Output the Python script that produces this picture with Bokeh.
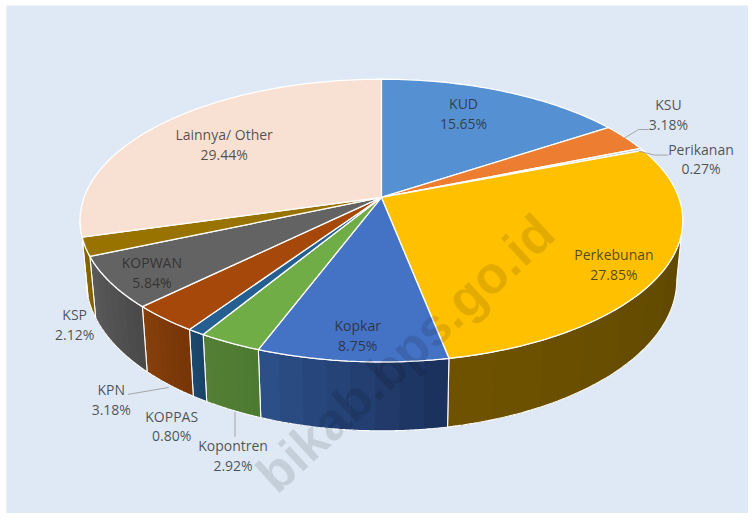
import numpy as np
from bokeh.plotting import figure
from bokeh.embed import file_html
from bokeh.resources import INLINE
from bokeh.core.properties import value

# ---- data ----
categories = ["KUD", "KSU", "Perikanan", "Perkebunan", "Kopkar", "Kopontren",
              "KOPPAS", "KPN", "KOPWAN", "KSP", "Lainnya/ Other"]
shares = [15.65, 3.18, 0.27, 27.85, 8.75, 2.92, 0.80, 3.18, 5.84, 2.12, 29.44]
share_labels = ["15.65%", "3.18%", "0.27%", "27.85%", "8.75%", "2.92%",
                "0.80%", "3.18%", "5.84%", "2.12%", "29.44%"]
watermark = ["bikab.bps.go.id"]

# ---- style ----
top_colors = ["#5591D2", "#ED7D31", "#C9C9C9", "#FFC000", "#4472C4", "#70AD47",
              "#255E91", "#A5480A", "#636363", "#997300", "#F8E1D3"]
wall_left = ["#3F6E9F", "#A85822", "#8A8A8A", "#6E5200", "#2C4F88", "#557F36",
             "#1C4A70", "#85400B", "#5A5A5A", "#8A6C00", "#C9B4A8"]
wall_right = ["#3F6E9F", "#A85822", "#8A8A8A", "#5F4800", "#1C325E", "#4C7A30",
              "#1A4266", "#773508", "#4A4A4A", "#7F6000", "#C9B4A8"]
panel = "#DEE9F5"
text_col = "#262626"

# ---- layout (pixel space of the page) ----
CX, CY, A, B, K, DROP, SHRINK = 385.0, 200.0, 300.5, 139.7, 0.1638, 58.5, 0.98
label_x = [468, 675, 708, 620, 361, 235, 173, 112, 153, 75, 226]
label_y = [105, 106, 151, 258, 330, 452, 422, 395, 266, 319, 136]
leaders = [([630, 645, 655], [140, 131, 131]),
           ([645, 661, 675], [153, 157, 157]),
           ([129, 170], [400, 393]),
           ([237, 237], [418, 443])]


def rim(theta):
    X, Y = np.sin(theta), np.cos(theta)
    w = 1 + K * Y
    return CX + A * X / w, CY - B * Y / w, w


def lower(x, y, w):
    return CX + (x - CX) * SHRINK, y + DROP / w


def mix(c0, c1, f):
    a = [int(c0[j:j + 2], 16) for j in (1, 3, 5)]
    b = [int(c1[j:j + 2], 16) for j in (1, 3, 5)]
    return "#%02X%02X%02X" % tuple(int(round(u + (v - u) * f)) for u, v in zip(a, b))


p = figure(width=748, height=513, x_range=(0, 756), y_range=(521, 0),
           toolbar_location=None, output_backend="svg", min_border=0,
           background_fill_color="white", border_fill_color="white",
           outline_line_color=None)
p.axis.visible = False
p.grid.visible = False

p.quad(left=[6], right=[756], top=[5], bottom=[521], fill_color=panel, line_color=None)

edges = np.concatenate([[0], np.cumsum(shares)]) / sum(shares) * 2 * np.pi
tangent = np.arcsin(K)
vis_lo, vis_hi = np.pi / 2 + tangent, 3 * np.pi / 2 - tangent

# side walls: overlapping shaded bands, then a white outline
for i in range(len(shares)):
    t0, t1 = max(edges[i], vis_lo), min(edges[i + 1], vis_hi)
    if t1 <= t0:
        continue
    t = np.linspace(t0, t1, 80)
    x, y, w = rim(t)
    xl, yl = lower(x, y, w)
    for b in range(8):
        s = b * 10
        col = mix(wall_right[i], wall_left[i], b / 7)
        p.patch(np.r_[x[s:], xl[s:][::-1]], np.r_[y[s:], yl[s:][::-1]],
                fill_color=col, line_color=None)
    p.patch(np.r_[x, xl[::-1]], np.r_[y, yl[::-1]], fill_color=None,
            line_color="#FFFFFF", line_width=1.1)

# top faces
for i in range(len(shares)):
    t = np.linspace(edges[i], edges[i + 1], max(int(shares[i] * 3), 6))
    x, y, _ = rim(t)
    p.patch(np.r_[CX, x], np.r_[CY, y], fill_color=top_colors[i],
            line_color="#FFFFFF", line_width=1.3)

# watermark
p.text([551], [227], text=watermark, angle=0.743, text_align="right",
       text_baseline="alphabetic", text_font=value("Liberation Sans"), text_font_style="bold",
       text_font_size="52px", text_color="#000000", text_alpha=0.11)

# leader lines
for lx, ly in leaders:
    p.line(lx, ly, line_color="#A6A6A6", line_width=1)

# labels
ff = value("Open Sans")
p.text(label_x, label_y, text=categories, text_align="center", text_baseline="middle",
       text_font=ff, text_font_size="14px", text_color=text_col, text_alpha=0.78)
p.text(label_x, [v + 20 for v in label_y], text=share_labels, text_align="center",
       text_baseline="middle", text_font=ff, text_font_size="14px", text_color=text_col,
       text_alpha=0.78)

open("out.html", "w").write(file_html(p, INLINE))
